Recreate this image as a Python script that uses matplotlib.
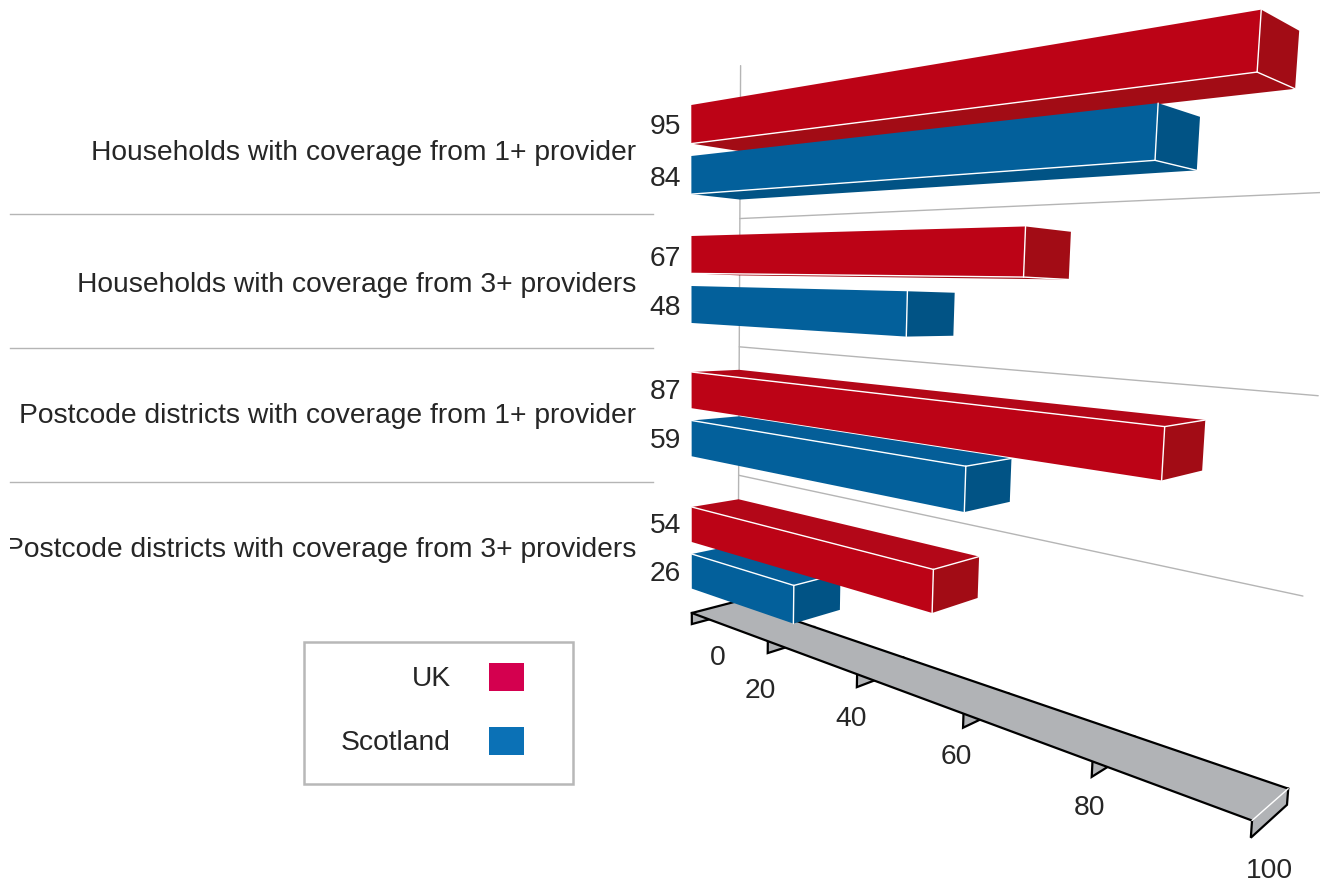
#!/usr/bin/env python3
"""Coverage by area, drawn as perspective 3D bars through a hand-built camera."""

import matplotlib
matplotlib.use("Agg")
import matplotlib.pyplot as plt
from matplotlib.patches import Polygon, Rectangle
from matplotlib.transforms import Bbox, TransformedBbox

CATEGORIES = [
    "Households with coverage from 1+ provider",
    "Households with coverage from 3+ providers",
    "Postcode districts with coverage from 1+ provider",
    "Postcode districts with coverage from 3+ providers",
]
UK_VALUES = [95, 67, 87, 54]
SCOTLAND_VALUES = [84, 48, 59, 26]
AXIS_TICKS = [0, 20, 40, 60, 80, 100]
SERIES_NAMES = ["UK", "Scotland"]

# screen y of each bar's top-left front corner
UK_TOPS = [105, 236, 372, 507]
SCOTLAND_TOPS = [156, 286, 420.5, 554]
SEPARATORS = [214, 348, 482]

# label centres, screen y
UK_LABEL_Y = [125, 257, 390, 524]
SCOTLAND_LABEL_Y = [177, 306, 439, 572]
CATEGORY_LABEL_Y = [151, 283, 414, 548]
TICK_LABEL_OFFSETS = [(26, 41), (-7, 45), (-6, 39), (-7, 36), (-2, 38), (19, 40)]

BAR_H = 37
FLOOR_Y = 613
FLOOR_DROP = 12
WALL_TOP = 54
CAP = 9  # baseline sits this far under a label's centre

# camera: vanishing points for value, vertical and depth directions
ORIGIN = (691.5, 300.0)
VP_VALUE = (-253.0, 263.0)
VP_VERT = (700.0, 8500.0)
VP_DEPTH = (1820.0, 320.0)
ALPHA = -0.00387
BETA = 1 / 8200
GAMMA = 0.0444

UK_COLS = {"front": "#bc0316", "side": "#a20c15", "top": "#b30718", "bottom": "#a20c15"}
SCOT_COLS = {"front": "#03609b", "side": "#015385", "top": "#045e98", "bottom": "#015385"}
GRID = "#b5b5b5"
PLATE = "#b1b3b6"
TEXT = "#262626"

plt.rcParams["font.family"] = ["Liberation Sans", "DejaVu Sans"]
FONT = dict(color=TEXT, fontsize=20.35)


def world_s(y):
    """Vertical world coordinate that lands on screen y at value 0, depth 0."""
    return (y - ORIGIN[1]) / (BETA * (VP_VERT[1] - y))


def project(v, s, d):
    x = ORIGIN[0] + v * ALPHA * VP_VALUE[0] + s * BETA * VP_VERT[0] + d * GAMMA * VP_DEPTH[0]
    y = ORIGIN[1] + v * ALPHA * VP_VALUE[1] + s * BETA * VP_VERT[1] + d * GAMMA * VP_DEPTH[1]
    w = 1 + v * ALPHA + s * BETA + d * GAMMA
    return x / w, y / w


def signed_area(pts):
    total = 0
    for (x0, y0), (x1, y1) in zip(pts, pts[1:] + pts[:1]):
        total += x0 * y1 - x1 * y0
    return total / 2


def edge(ax, a, b, color="white", lw=1.0, zorder=None):
    ax.plot([a[0], b[0]], [a[1], b[1]], color=color, lw=lw, solid_capstyle="round", zorder=zorder)


def draw_bar(ax, value, top_y, cols, zorder):
    st = world_s(top_y)
    sb = st + BAR_H
    # f/b front/back, l/r value 0/value, t/b top/bottom
    flt, frt = project(0, st, 0), project(value, st, 0)
    flb, frb = project(0, sb, 0), project(value, sb, 0)
    blt, brt = project(0, st, 1), project(value, st, 1)
    blb, brb = project(0, sb, 1), project(value, sb, 1)

    top = [flt, frt, brt, blt]
    bottom = [flb, frb, brb, blb]
    # screen y runs downward, so a face seen from outside winds negative on top
    top_seen = signed_area(top) < 0
    bottom_seen = signed_area(bottom) > 0

    if top_seen:
        ax.add_patch(Polygon(top, fc=cols["top"], ec="none", zorder=zorder))
    if bottom_seen:
        ax.add_patch(Polygon(bottom, fc=cols["bottom"], ec="none", zorder=zorder))
    ax.add_patch(Polygon([frt, brt, brb, frb], fc=cols["side"], ec="none", zorder=zorder))
    ax.add_patch(Polygon([flt, frt, frb, flb], fc=cols["front"], ec="none", zorder=zorder))

    edge(ax, frt, frb, zorder=zorder)
    if top_seen:
        edge(ax, flt, frt, zorder=zorder)
        edge(ax, frt, brt, zorder=zorder)
    if bottom_seen:
        edge(ax, flb, frb, zorder=zorder)
        edge(ax, frb, brb, zorder=zorder)


def draw_floor(ax):
    st = world_s(FLOOR_Y)
    sb = st + FLOOR_DROP
    for v in AXIS_TICKS:
        a, b = project(v, st, 0), project(v, sb, 0)
        c, d = project(v, sb, 1), project(v, st, 1)
        ax.add_patch(Polygon([a, b, c, d], fc=PLATE, ec="none", zorder=3))
        ax.plot([a[0], b[0], c[0], d[0]], [a[1], b[1], c[1], d[1]], color="black",
                lw=1.6, solid_joinstyle="miter", zorder=3)
    fl, fr = project(0, st, 0), project(100, st, 0)
    bl, br = project(0, st, 1), project(100, st, 1)
    ax.add_patch(Polygon([fl, fr, br, bl], fc=PLATE, ec="none", zorder=4))
    edge(ax, fl, fr, color="black", lw=1.6, zorder=4)
    edge(ax, bl, br, color="black", lw=1.6, zorder=4)
    edge(ax, fl, bl, color="black", lw=1.6, zorder=4)
    edge(ax, fr, br, zorder=4)

    for v, (dx, dy) in zip(AXIS_TICKS, TICK_LABEL_OFFSETS):
        x, y = project(v, sb, 0)
        ax.text(x + dx, y + dy, str(v), ha="center", va="baseline", **FONT)


def draw_wall(ax):
    floor = world_s(FLOOR_Y)
    x0, y0 = project(0, world_s(WALL_TOP), 1)
    x1, y1 = project(0, floor, 1)
    edge(ax, (x0, y0), (x1, y1), color=GRID, lw=1.0, zorder=1)
    for y in SEPARATORS:
        ax.plot([10, 653], [y, y], color=GRID, lw=1.0, zorder=1)
        a = project(0, world_s(y), 1)
        b = project(100, world_s(y), 1)
        edge(ax, a, b, color=GRID, lw=1.0, zorder=1)


def main():
    fig = plt.figure(figsize=(13.2, 8.82), dpi=100)
    ax = fig.add_axes([0, 0, 1, 1])
    ax.set_xlim(0, 1320)
    ax.set_ylim(882, 0)
    ax.axis("off")

    draw_wall(ax)
    draw_floor(ax)

    # bars nearest the eye line are painted last
    bars = []
    for i in range(len(CATEGORIES)):
        bars.append((UK_VALUES[i], UK_TOPS[i], UK_COLS))
        bars.append((SCOTLAND_VALUES[i], SCOTLAND_TOPS[i], SCOT_COLS))
    bars.sort(key=lambda b: -abs(b[1] + BAR_H / 2 - VP_DEPTH[1]))
    for n, (value, top, cols) in enumerate(bars):
        draw_bar(ax, value, top, cols, 5 + n)

    clip = TransformedBbox(Bbox([[10, 0], [1320, 882]]), ax.transData)
    for i, label in enumerate(CATEGORIES):
        ax.text(681, UK_LABEL_Y[i] + CAP, str(UK_VALUES[i]), ha="right", va="baseline", **FONT)
        ax.text(681, SCOTLAND_LABEL_Y[i] + CAP, str(SCOTLAND_VALUES[i]), ha="right", va="baseline", **FONT)
        t = ax.text(636, CATEGORY_LABEL_Y[i] + CAP, label, ha="right", va="baseline", **FONT)
        t.set_clip_box(clip)
        t.set_clip_on(True)

    # legend box
    ax.add_patch(Rectangle((304, 642), 269, 142, fc="white", ec="#b8b8b8", lw=1.8, zorder=2))
    for name, col, y in zip(SERIES_NAMES, ["#d4004f", "#0b71b6"], [677, 741]):
        ax.text(451, y + CAP, name, ha="right", va="baseline", zorder=3, **FONT)
        ax.add_patch(Rectangle((489, y - 14), 35, 28, fc=col, ec="none", zorder=3))

    fig.savefig("out.png", dpi=100)


if __name__ == "__main__":
    main()
